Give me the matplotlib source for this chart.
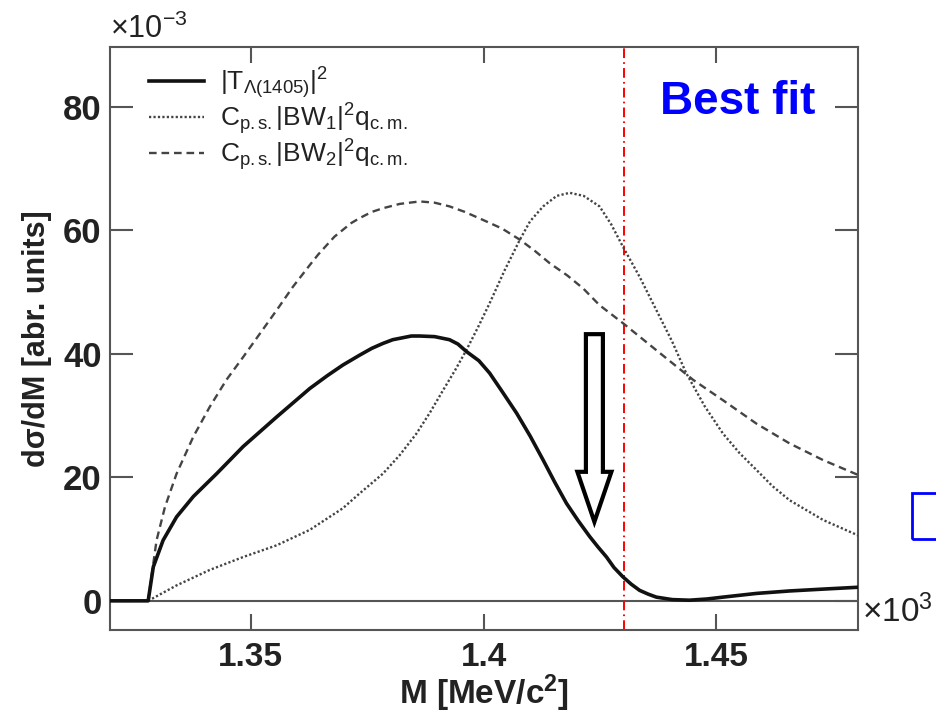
import matplotlib
matplotlib.use("Agg")
import matplotlib.pyplot as plt
from matplotlib.patches import FancyArrow, Rectangle
import numpy as np

plt.rcParams['font.family'] = ['Liberation Sans', 'DejaVu Sans']
plt.rcParams['mathtext.fontset'] = 'custom'
plt.rcParams['mathtext.rm'] = 'Liberation Sans'
plt.rcParams['mathtext.it'] = 'Liberation Sans:italic'
plt.rcParams['mathtext.bf'] = 'Liberation Sans:bold'
plt.rcParams['mathtext.default'] = 'regular'
plt.rcParams['lines.scale_dashes'] = False

# |T_Lambda(1405)|^2 (solid)
m_t = [1.3200, 1.3280, 1.3291, 1.3312, 1.3341, 1.3377, 1.3427, 1.3484, 1.3556,
       1.3627, 1.3665, 1.3698, 1.3734, 1.3760, 1.3784, 1.3805, 1.3825, 1.3845,
       1.3863, 1.3895, 1.3927, 1.3945, 1.3963, 1.3990, 1.4013, 1.4040, 1.4071,
       1.4100, 1.4128, 1.4153, 1.4178, 1.4203, 1.4228, 1.4246, 1.4264, 1.4280,
       1.4299, 1.4317, 1.4335, 1.4353, 1.4371, 1.4405, 1.4442, 1.4480, 1.4514,
       1.4586, 1.4657, 1.4729, 1.4804]
t_sq = [0.0, 0.0, 5.5, 9.8, 13.6, 16.9, 20.6, 25.0, 29.8,
        34.4, 36.5, 38.2, 39.8, 40.9, 41.7, 42.3, 42.6, 42.9,
        42.9, 42.8, 42.3, 41.6, 40.4, 38.9, 36.9, 33.9, 30.4,
        26.7, 22.8, 19.2, 15.8, 13.0, 10.4, 8.7, 7.1, 5.4,
        3.9, 2.7, 1.7, 1.1, 0.6, 0.2, 0.1, 0.3, 0.6,
        1.2, 1.6, 1.9, 2.2]

# C_ps |BW1|^2 q_cm (dotted)
m_bw1 = [1.3280, 1.3341, 1.3412, 1.3484, 1.3556, 1.3627, 1.3698, 1.3734, 1.3784,
         1.3820, 1.3856, 1.3885, 1.3913, 1.3940, 1.3963, 1.3988, 1.4013, 1.4045,
         1.4078, 1.4100, 1.4128, 1.4157, 1.4185, 1.4215, 1.4249, 1.4274, 1.4299,
         1.4335, 1.4371, 1.4405, 1.4435, 1.4475, 1.4514, 1.4550, 1.4586, 1.4620,
         1.4657, 1.4729, 1.4804]
bw1 = [0.0, 2.5, 5.0, 7.1, 9.0, 11.5, 15.0, 17.4, 20.6,
       23.6, 27.1, 30.5, 34.1, 37.5, 40.6, 44.3, 48.2, 53.5,
       58.5, 61.5, 63.9, 65.6, 66.1, 65.6, 63.9, 61.0, 57.4,
       52.5, 47.1, 42.0, 36.9, 31.5, 27.1, 23.9, 21.2, 18.6,
       16.3, 13.1, 10.6]

# C_ps |BW2|^2 q_cm (dashed)
m_bw2 = [1.3280, 1.3287, 1.3298, 1.3316, 1.3341, 1.3377, 1.3412, 1.3448, 1.3484,
         1.3520, 1.3556, 1.3591, 1.3627, 1.3645, 1.3663, 1.3680, 1.3698, 1.3716,
         1.3734, 1.3760, 1.3784, 1.3820, 1.3863, 1.3895, 1.3927, 1.3960, 1.3999,
         1.4040, 1.4078, 1.4110, 1.4142, 1.4180, 1.4214, 1.4249, 1.4299, 1.4371,
         1.4450, 1.4514, 1.4586, 1.4657, 1.4729, 1.4804]
bw2 = [0.0, 3.9, 9.8, 15.2, 20.6, 26.6, 31.4, 35.8, 39.5,
       43.3, 47.1, 50.9, 54.4, 56.1, 57.6, 59.0, 60.1, 61.2,
       62.0, 63.0, 63.6, 64.3, 64.7, 64.5, 63.9, 63.0, 61.7,
       60.3, 58.5, 56.7, 54.7, 52.7, 50.6, 47.9, 45.0, 40.6,
       35.8, 32.5, 28.7, 25.5, 22.8, 20.4]

x_ticks = [1.35, 1.40, 1.45]
x_tick_labels = ['1.35', '1.4', '1.45']
y_ticks = [0, 20, 40, 60, 80]
m_cut = 1.4302
arrow_x, arrow_top, arrow_tip = 1.4238, 43.2, 12.8

fig = plt.figure(figsize=(9.36, 7.14), dpi=100)
ax = fig.add_axes([0.1175, 0.117, 0.7992, 0.817])

spine_col = '#555555'
ax.axhline(0, color=spine_col, lw=1.5, zorder=1)
ax.plot(m_t, t_sq, color='#111111', lw=2.6, label=r'$|T_{\Lambda(1405)}|^2$', zorder=4)
ax.plot(m_bw1, bw1, color='#444444', lw=1.7, dashes=(1.6, 1.6),
        label=r'$C_{p.s.}|BW_1|^2q_{c.m.}$', zorder=3)
ax.plot(m_bw2, bw2, color='#444444', lw=1.7, dashes=(5.5, 3.5),
        label=r'$C_{p.s.}|BW_2|^2q_{c.m.}$', zorder=3)
ax.axvline(m_cut, color='red', lw=1.4, dashes=(7, 3, 1.2, 3), zorder=2)

ax.add_patch(FancyArrow(arrow_x, arrow_top, 0, arrow_tip - arrow_top,
                        width=0.00365, head_width=0.0073, head_length=8.1,
                        length_includes_head=True, fc='white', ec='black',
                        lw=3, zorder=5))

ax.set_xlim(1.3198, 1.4804)
ax.set_ylim(-4.8, 89.7)
ax.set_xticks(x_ticks)
ax.set_xticklabels(x_tick_labels)
ax.set_yticks(y_ticks)
for s in ax.spines.values():
    s.set_color(spine_col)
    s.set_linewidth(1.5)
ax.tick_params(axis='x', direction='in', length=11.5, width=1.5, color=spine_col,
               top=True, labelsize=24, pad=8)
ax.tick_params(axis='y', direction='in', length=16.5, width=1.5, color=spine_col,
               right=True, labelsize=25, pad=6)
for lab in ax.get_xticklabels() + ax.get_yticklabels():
    lab.set_fontweight('bold')
    lab.set_color('#222222')

ax.set_xlabel(r'M [MeV/c$^{\mathbf{2}}$]', fontsize=24, fontweight='bold', color='#222222', labelpad=0)
ax.set_ylabel('d\u03c3/dM [abr. units]', fontsize=22, fontweight='bold', color='#222222', labelpad=8)

leg = ax.legend(loc='upper left', bbox_to_anchor=(0.02, 1.01), frameon=False,
                fontsize=19, handlelength=2.1, handletextpad=0.6, labelspacing=0.0,
                labelcolor='#222222')

ax.text(1.4545, 80.8, 'Best fit', color='#0000ff', fontsize=33, fontweight='bold',
        ha='center', va='center')

fig.text(0.1175, 0.937, r'$\times$10$^{-3}$', fontsize=22, color='#222222', ha='left', va='bottom')
fig.text(0.921, 0.143, r'$\times$10$^{3}$', fontsize=24, color='#222222', ha='left', va='center')

fig.patches.append(Rectangle((912 / 936, 1 - 539 / 714), 0.06, 46 / 714,
                             transform=fig.transFigure, fill=False, ec='#0000ff', lw=2))

fig.savefig('out.png', dpi=100)
